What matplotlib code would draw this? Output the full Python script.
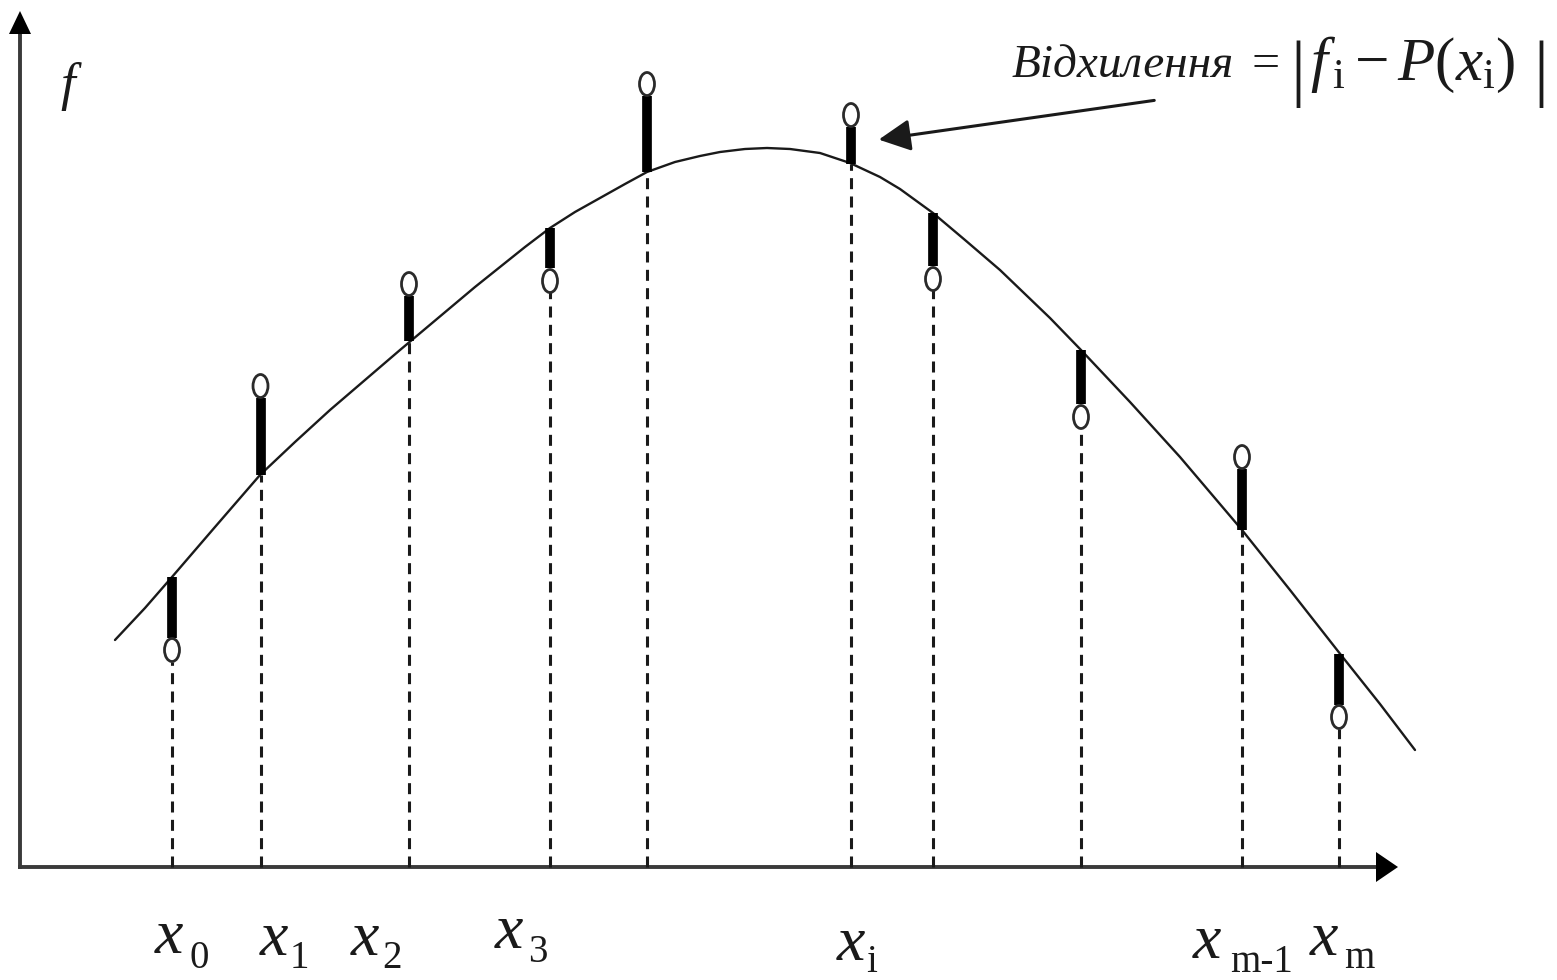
import matplotlib
matplotlib.use("Agg")
import matplotlib.pyplot as plt
from matplotlib.patches import Ellipse, FancyArrowPatch

plt.rcParams['mathtext.fontset'] = 'custom'
plt.rcParams['mathtext.rm'] = 'Liberation Serif'
plt.rcParams['mathtext.it'] = 'Liberation Serif:italic'

# ---------------- data ----------------
# approximating curve P(x), sampled along the drawn line
curve_x = [95, 125, 152, 195, 240, 275, 310, 345, 380, 430, 455, 480, 505, 530,
           555, 580, 605, 627, 655, 680, 700, 725, 747, 770, 800, 830, 860,
           880, 913, 945, 980, 1030, 1061, 1110, 1160, 1222, 1270, 1321,
           1360, 1395]
curve_f = [227, 259, 290, 340, 392, 425, 457, 487, 517, 559, 580, 600, 620, 639,
           655, 669, 683, 695, 705, 711, 715, 718, 719, 718, 714, 704, 690,
           678, 654, 627, 597, 549, 517, 465, 410, 337, 277, 212,
           163, 117]

# nodes x_i, measured values f_i and curve values P(x_i)
node_x = [152, 240.5, 389, 530, 627, 831, 913, 1061, 1222, 1319]
node_f = [217, 481, 583, 586, 783, 752, 588, 450, 410, 150]
node_P = [290, 392, 526, 639, 695, 703, 654, 517, 337, 213]

tick_main = ["x", "x", "x", "x", "x", "x", "x"]
tick_sub = ["0", "1", "2", "3", "i", "m-1", "m"]

annot_word = "Відхилення"
# ---------------------------------------------------------------

W, H = 1557, 980
fig = plt.figure(figsize=(W / 100, H / 100), dpi=100)
ax = fig.add_axes([0, 0, 1, 1])
ax.set_xlim(-20, W - 20)
ax.set_ylim(-(H - 867), 867)
ax.axis('off')

def px(x, y):
    """pixel position -> data position (layout helper)"""
    return x - 20, 867 - y

axis_col = '#3a3a3a'
ink = '#1a1a1a'

# axes with arrows
ax.plot([-2, 1360], [0, 0], color=axis_col, lw=2.8, solid_capstyle='butt', zorder=2)
ax.plot([0, 0], [-2, 835], color=axis_col, lw=2.8, solid_capstyle='butt', zorder=2)
ax.fill([1356, 1378, 1356], [-15, 0, 15], color='black', lw=0, zorder=3)
ax.fill([-11, 0, 11], [833, 856, 833], color='black', lw=0, zorder=3)

# curve
ax.plot(curve_x, curve_f, color=ink, lw=1.7, zorder=4,
        solid_joinstyle='round', solid_capstyle='round')

eh = 23  # ellipse height (data units)
ew = 15
for x, f, p in zip(node_x, node_f, node_P):
    if f > p:
        dash_top = p
        bar_lo, bar_hi = p, f - eh / 2 - 1
    else:
        dash_top = f - eh / 2
        bar_lo, bar_hi = f + eh / 2 + 1, p
    ax.plot([x, x], [0, dash_top], color=ink, lw=2.2,
            linestyle=(0, (3.6, 2.4)), zorder=3)
    ax.plot([x, x], [bar_lo, bar_hi], color='black', lw=7.0,
            solid_capstyle='butt', zorder=5)
    ax.add_patch(Ellipse((x, f), ew, eh, facecolor='white', edgecolor='#2a2a2a',
                         lw=2.0, zorder=6))

# f label
fx, fy = px(60, 100)
ax.text(fx, fy, "f", fontsize=38, family='Liberation Serif', style='italic',
        ha='left', va='baseline', color=ink)

# tick labels
main_pos = [(155, 953), (260, 955), (351, 955), (495, 948), (837, 960), (1193, 958), (1310, 955)]
sub_pos = [(190, 968), (290, 968), (382, 968), (528, 962), (866, 972), (1230, 972), (1344, 968)]
for m, s, (mx, my), (sx, sy) in zip(tick_main, tick_sub, main_pos, sub_pos):
    a, b = px(mx, my)
    ax.text(a, b, m, fontsize=46, family='Liberation Serif', style='italic',
            ha='left', va='baseline', color=ink)
    a, b = px(sx, sy)
    ax.text(a, b, s, fontsize=28, family='Liberation Serif',
            ha='left', va='baseline', color=ink)

# annotation
a, b = px(1012, 77)
ax.text(a, b, annot_word, fontsize=34, family='Liberation Serif', style='italic',
        ha='left', va='baseline', color=ink)
a, b = px(1252, 77)
ax.text(a, b, "=", fontsize=36, family='Liberation Serif', ha='left', va='baseline', color=ink)
a, b = px(1290, 92)
ax.text(a, b, "|", fontsize=54, family='Liberation Serif', ha='left', va='baseline', color=ink)
a, b = px(1533, 92)
ax.text(a, b, "|", fontsize=54, family='Liberation Serif', ha='left', va='baseline', color=ink)
a, b = px(1310, 80)
ax.text(a, b, r"$f_{\,\mathrm{i}} - P(x_{\mathrm{i}})$", fontsize=44,
        ha='left', va='baseline', color=ink)

t0 = px(1157, 100)
t1 = px(876, 140)
arr = FancyArrowPatch(t0, t1, arrowstyle='-|>,head_length=1.3,head_width=0.65',
                      mutation_scale=15, lw=2.2, color=ink, zorder=7)
ax.add_patch(arr)

fig.savefig("out.png", dpi=100, facecolor='white')
